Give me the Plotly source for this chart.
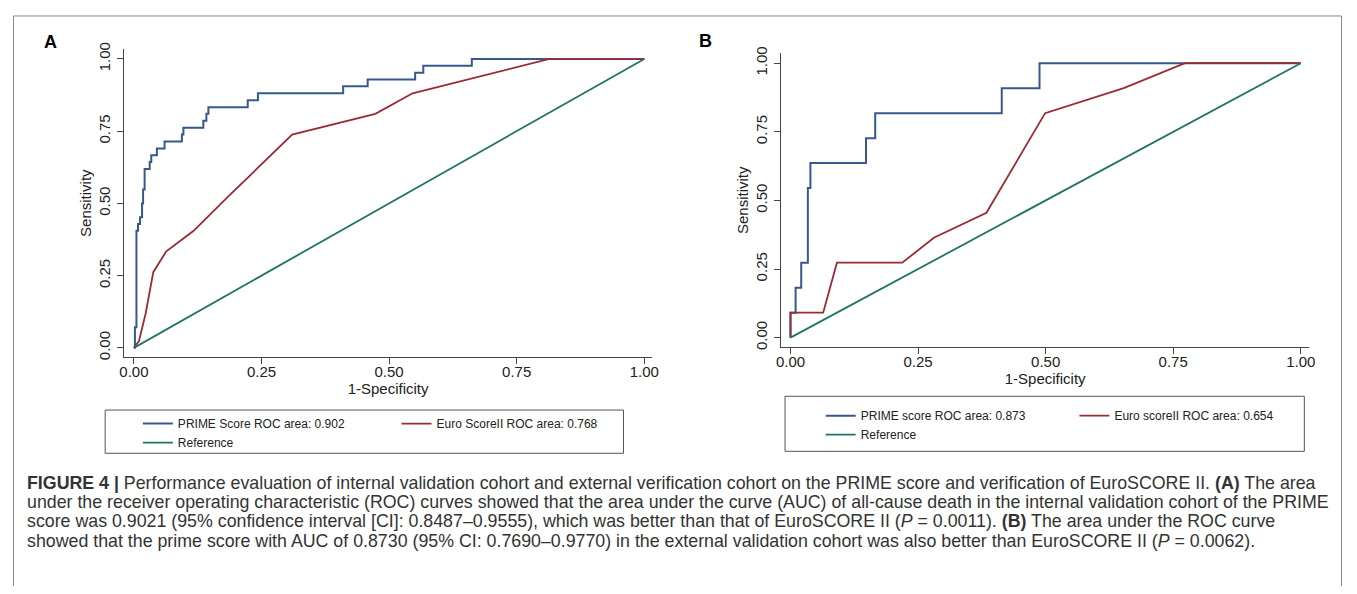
import plotly.graph_objects as go

# ROC points (1-specificity, sensitivity)
prime_a_fpr = [0, 0.002, 0.005, 0.005, 0.008, 0.012, 0.016, 0.018, 0.021, 0.031, 0.034, 0.045,
               0.060, 0.094, 0.097, 0.136, 0.142, 0.146, 0.223, 0.243, 0.410, 0.458, 0.551,
               0.567, 0.662, 1.0]
prime_a_tpr = [0, 0.071, 0.167, 0.405, 0.429, 0.452, 0.500, 0.548, 0.619, 0.643, 0.667, 0.690,
               0.714, 0.738, 0.762, 0.786, 0.810, 0.833, 0.857, 0.881, 0.905, 0.929, 0.952,
               0.976, 1.0, 1.0]
euro_a_fpr = [0, 0.010, 0.023, 0.038, 0.063, 0.117, 0.185, 0.310, 0.473, 0.546, 0.814, 1.0]
euro_a_tpr = [0, 0.024, 0.119, 0.262, 0.333, 0.405, 0.524, 0.738, 0.810, 0.881, 1.0, 1.0]

prime_b_fpr = [0, 0, 0.010, 0.021, 0.034, 0.039, 0.148, 0.166, 0.414, 0.488, 1.0]
prime_b_tpr = [0, 0.091, 0.182, 0.273, 0.545, 0.636, 0.727, 0.818, 0.909, 1.0, 1.0]
euro_b_fpr = [0, 0, 0.064, 0.091, 0.219, 0.281, 0.384, 0.499, 0.653, 0.773, 1.0]
euro_b_tpr = [0, 0.091, 0.091, 0.273, 0.273, 0.364, 0.455, 0.818, 0.909, 1.0, 1.0]

ref_x = [0, 1]
ref_y = [0, 1]

names_a = ['PRIME Score ROC area: 0.902', 'Euro ScoreII ROC area: 0.768', 'Reference']
names_b = ['PRIME score ROC area: 0.873', 'Euro scoreII ROC area: 0.654', 'Reference']

tick_vals = [0, 0.25, 0.5, 0.75, 1.0]
tick_text = ['0.00', '0.25', '0.50', '0.75', '1.00']

caption_lines = [
    '<b>FIGURE 4 |</b> Performance evaluation of internal validation cohort and external '
    'verification cohort on the PRIME score and verification of EuroSCORE II. <b>(A)</b> The area',
    'under the receiver operating characteristic (ROC) curves showed that the area under the curve '
    '(AUC) of all-cause death in the internal validation cohort of the PRIME',
    'score was 0.9021 (95% confidence interval [CI]: 0.8487–0.9555), which was better than that of '
    'EuroSCORE II (<i>P</i> = 0.0011). <b>(B)</b> The area under the ROC curve',
    'showed that the prime score with AUC of 0.8730 (95% CI: 0.7690–0.9770) in the external '
    'validation cohort was also better than EuroSCORE II (<i>P</i> = 0.0062).',
]

BLUE = '#36588a'
RED = '#9a2a33'
GREEN = '#1f7565'
AXIS = '#444444'
FONT = 'Liberation Sans, Arial, sans-serif'

# the page keeps the browser's 8px body margin, so the figure is 16px smaller
# than the window and positions below are given in window pixels
PAD = 8
W, H = 1357 - 2 * PAD, 594 - 2 * PAD


def px_x(p):
    return (p - PAD) / W


def px_y(p):
    return 1 - (p - PAD) / H


fig = go.Figure()

# panel A
fig.add_trace(go.Scatter(x=prime_a_fpr, y=prime_a_tpr, mode='lines', line_shape='hv',
                         line=dict(color=BLUE, width=2), name=names_a[0],
                         xaxis='x', yaxis='y', legend='legend'))
fig.add_trace(go.Scatter(x=euro_a_fpr, y=euro_a_tpr, mode='lines',
                         line=dict(color=RED, width=1.8), name=names_a[1],
                         xaxis='x', yaxis='y', legend='legend2'))
fig.add_trace(go.Scatter(x=ref_x, y=ref_y, mode='lines',
                         line=dict(color=GREEN, width=1.8), name=names_a[2],
                         xaxis='x', yaxis='y', legend='legend'))

# panel B
fig.add_trace(go.Scatter(x=prime_b_fpr, y=prime_b_tpr, mode='lines', line_shape='hv',
                         line=dict(color=BLUE, width=2), name=names_b[0],
                         xaxis='x2', yaxis='y2', legend='legend3'))
fig.add_trace(go.Scatter(x=euro_b_fpr, y=euro_b_tpr, mode='lines',
                         line=dict(color=RED, width=1.8), name=names_b[1],
                         xaxis='x2', yaxis='y2', legend='legend4'))
fig.add_trace(go.Scatter(x=ref_x, y=ref_y, mode='lines',
                         line=dict(color=GREEN, width=1.8), name=names_b[2],
                         xaxis='x2', yaxis='y2', legend='legend3'))

axis_common = dict(
    showgrid=False, zeroline=False, showline=True, linecolor=AXIS, linewidth=1.2,
    ticks='outside', ticklen=6, tickcolor=AXIS, tickwidth=1.2,
    tickmode='array', tickvals=tick_vals, ticktext=tick_text,
    tickfont=dict(family=FONT, size=15, color='#222222'),
    mirror=False,
)

xt = dict(text='1-Specificity', font=dict(family=FONT, size=15, color='#222222'), standoff=0)
yt = dict(text='Sensitivity', font=dict(family=FONT, size=15, color='#222222'), standoff=0)

leg_common = dict(bgcolor='rgba(0,0,0,0)', borderwidth=0, xanchor='left', yanchor='top',
                  font=dict(family=FONT, size=12, color='#222222'), itemwidth=30,
                  tracegroupgap=0, orientation='v')

fig.update_layout(
    width=W, height=H,
    margin=dict(l=0, r=0, t=0, b=0),
    plot_bgcolor='white', paper_bgcolor='white',
    showlegend=True,
    xaxis=dict(axis_common, domain=[px_x(120), px_x(653)], range=[-0.0194, 1.0155],
               anchor='y', ticklabelstandoff=-5, title=xt),
    yaxis=dict(axis_common, domain=[px_y(356), px_y(43)], range=[-0.0316, 1.033],
               anchor='x', tickangle=-90, ticklabelstandoff=1, title=yt),
    xaxis2=dict(axis_common, domain=[px_x(783), px_x(1316)], range=[-0.0185, 1.0167],
                anchor='y2', ticklabelstandoff=-5, title=xt),
    yaxis2=dict(axis_common, domain=[px_y(346), px_y(47)], range=[-0.0347, 1.036],
                anchor='x2', tickangle=-90, ticklabelstandoff=1, title=yt),
    legend=dict(leg_common, x=px_x(134), y=px_y(409)),
    legend2=dict(leg_common, x=px_x(395), y=px_y(409)),
    legend3=dict(leg_common, x=px_x(823), y=px_y(401)),
    legend4=dict(leg_common, x=px_x(1079), y=px_y(401)),
)

# outer figure frame and legend frames
fig.add_shape(type='rect', xref='paper', yref='paper', x0=px_x(8.5), x1=px_x(1348.5),
              y0=px_y(620), y1=px_y(9), line=dict(color='#8a8a8a', width=1))
fig.add_shape(type='rect', xref='paper', yref='paper', x0=px_x(101), x1=px_x(624),
              y0=px_y(454), y1=px_y(410), line=dict(color='#555555', width=1))
fig.add_shape(type='rect', xref='paper', yref='paper', x0=px_x(787), x1=px_x(1311),
              y0=px_y(452), y1=px_y(396), line=dict(color='#555555', width=1))

# panel letters
fig.add_annotation(text='<b>A</b>', xref='paper', yref='paper', x=px_x(46), y=px_y(35),
                   xanchor='center', yanchor='middle', showarrow=False,
                   font=dict(family=FONT, size=18, color='black'))
fig.add_annotation(text='<b>B</b>', xref='paper', yref='paper', x=px_x(707), y=px_y(34),
                   xanchor='center', yanchor='middle', showarrow=False,
                   font=dict(family=FONT, size=18, color='black'))

# caption, one annotation per line
for i, line in enumerate(caption_lines):
    fig.add_annotation(text=line, xref='paper', yref='paper', x=px_x(20),
                       y=px_y(484 + i * 19.7), xanchor='left', yanchor='middle',
                       align='left', showarrow=False,
                       font=dict(family=FONT, size=17.8, color='#333333'))

fig.write_html('out.html', config={'displayModeBar': False})
